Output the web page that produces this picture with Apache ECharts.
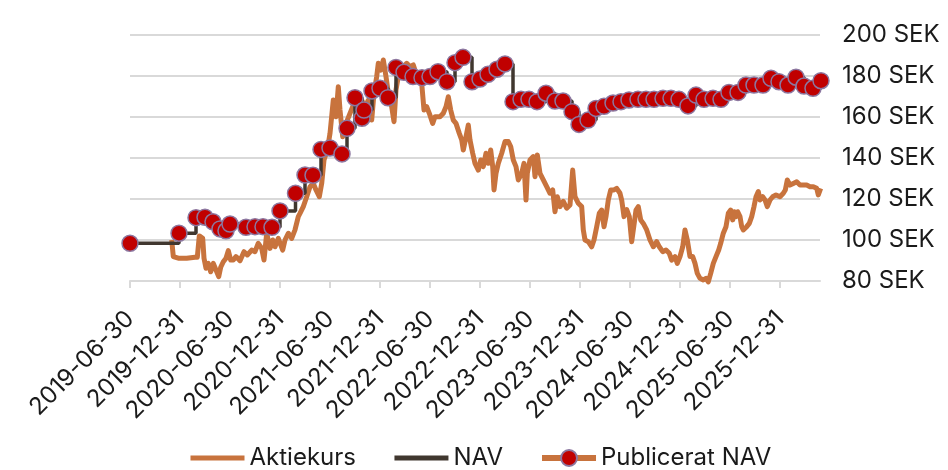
<!DOCTYPE html>
<html>
<head>
<meta charset="utf-8">
<script src="https://cdn.jsdelivr.net/npm/echarts@6/dist/echarts.min.js"></script>
<style>
html, body { margin: 0; padding: 0; background: #fff; }
#main { width: 948px; height: 470px; }
</style>
</head>
<body>
<div id="main"></div>
<script>
// x values are decimal years (2019.5 = 2019-06-30)
var xTickValues = [2019.5, 2020, 2020.5, 2021, 2021.5, 2022, 2022.5, 2023, 2023.5, 2024, 2024.5, 2025, 2025.5, 2026];
var xTickLabels = ['2019-06-30', '2019-12-31', '2020-06-30', '2020-12-31', '2021-06-30', '2021-12-31', '2022-06-30',
	'2022-12-31', '2023-06-30', '2023-12-31', '2024-06-30', '2024-12-31', '2025-06-30', '2025-12-31'];

var aktiekurs = [
	[2019.917, 100.0], [2019.933, 91.9], [2019.983, 91.1], [2020.067, 91.1], [2020.15, 91.6], [2020.173, 91.6],
	[2020.193, 102.0], [2020.227, 100.8], [2020.24, 91.1], [2020.26, 86.2], [2020.283, 88.6], [2020.307, 84.5],
	[2020.333, 88.6], [2020.36, 85.4], [2020.387, 82.1], [2020.407, 86.7], [2020.433, 89.4], [2020.46, 91.1],
	[2020.483, 94.8], [2020.507, 90.2], [2020.533, 90.2], [2020.56, 91.9], [2020.60, 89.9], [2020.64, 94.3],
	[2020.673, 92.7], [2020.717, 95.1], [2020.75, 94.3], [2020.783, 98.4], [2020.817, 95.9], [2020.84, 90.2],
	[2020.867, 103.3], [2020.90, 95.9], [2020.927, 100], [2020.95, 96.7], [2020.983, 100.8], [2021.027, 95.1],
	[2021.05, 100], [2021.083, 103.3], [2021.117, 100.8], [2021.15, 104.9], [2021.183, 111.4], [2021.20, 113],
	[2021.233, 116.3], [2021.267, 121.1], [2021.30, 126], [2021.333, 127.6], [2021.36, 124.4], [2021.393, 121.1],
	[2021.417, 127.6], [2021.44, 139], [2021.473, 143.9], [2021.50, 152], [2021.533, 168.3], [2021.56, 160.1],
	[2021.583, 174.8], [2021.60, 163.4], [2021.627, 150.4], [2021.65, 153.7], [2021.673, 158.5], [2021.70, 161.8],
	[2021.727, 165.0], [2021.76, 166.7], [2021.783, 163.4], [2021.817, 168.3], [2021.85, 165], [2021.883, 168.3],
	[2021.917, 158.5], [2021.94, 171.6], [2021.967, 179.7], [2021.983, 186.2], [2022.007, 182.9], [2022.033, 187.8],
	[2022.06, 179.7], [2022.093, 168.3], [2022.117, 165], [2022.14, 157.7], [2022.16, 173.2], [2022.183, 179.7],
	[2022.207, 182.9], [2022.233, 184.5], [2022.267, 186.2], [2022.30, 184.5], [2022.333, 185.4], [2022.36, 181.3],
	[2022.383, 178], [2022.417, 176.4], [2022.44, 163.4], [2022.467, 165], [2022.493, 161.8], [2022.527, 156.9],
	[2022.55, 160.1], [2022.60, 160.1], [2022.633, 161.8], [2022.66, 165], [2022.683, 169.9], [2022.707, 163.4],
	[2022.733, 158.5], [2022.76, 156.9], [2022.793, 152], [2022.817, 148.8], [2022.833, 143.9], [2022.86, 150.4],
	[2022.883, 156.1], [2022.90, 148.8], [2022.927, 142.3], [2022.95, 137.4], [2022.983, 134.1], [2023.007, 139],
	[2023.033, 135.8], [2023.06, 142.3], [2023.083, 137.4], [2023.107, 143.9], [2023.127, 135.8], [2023.14, 124.4],
	[2023.16, 132.5], [2023.183, 137.4], [2023.217, 142.3], [2023.25, 148], [2023.283, 148], [2023.307, 145.6],
	[2023.333, 139], [2023.36, 135.8], [2023.383, 129.3], [2023.417, 132.5], [2023.44, 137.4], [2023.46, 119.5],
	[2023.473, 132.5], [2023.50, 139], [2023.533, 140.7], [2023.55, 130.9], [2023.573, 141.5], [2023.60, 132.5],
	[2023.633, 129.3], [2023.667, 126], [2023.70, 122.8], [2023.727, 124.4], [2023.75, 113.8], [2023.773, 121.1],
	[2023.80, 116.3], [2023.833, 118.8], [2023.867, 115.5], [2023.90, 117.1], [2023.927, 134.1], [2023.95, 121.1],
	[2023.983, 117.9], [2024.017, 116.3], [2024.033, 104.9], [2024.05, 100], [2024.083, 99.2], [2024.117, 96.7],
	[2024.14, 100], [2024.167, 106.5], [2024.193, 113], [2024.217, 114.6], [2024.24, 106.5], [2024.26, 111.4],
	[2024.283, 119.5], [2024.307, 124.4], [2024.34, 124.4], [2024.367, 125.2], [2024.40, 122.8], [2024.417, 119.5],
	[2024.44, 111.4], [2024.467, 114.8], [2024.493, 111.4], [2024.517, 99.2], [2024.533, 104.9], [2024.56, 114.6],
	[2024.583, 116.3], [2024.607, 109.8], [2024.633, 108.1], [2024.667, 104.9], [2024.70, 100], [2024.733, 96.7],
	[2024.767, 99.2], [2024.793, 96.7], [2024.827, 94.3], [2024.86, 95.1], [2024.893, 93.5], [2024.917, 90.2],
	[2024.95, 91.9], [2024.973, 88.6], [2025.00, 91.9], [2025.027, 96.7], [2025.05, 104.9], [2025.073, 100],
	[2025.10, 91.9], [2025.127, 91.9], [2025.15, 88.6], [2025.173, 83.7], [2025.20, 81.3], [2025.233, 80.5],
	[2025.26, 81.3], [2025.283, 79.6], [2025.307, 83.7], [2025.333, 88.6], [2025.36, 91.9], [2025.387, 95.1],
	[2025.407, 98.4], [2025.433, 103.3], [2025.46, 106.5], [2025.483, 113], [2025.507, 114.6], [2025.527, 109.8],
	[2025.543, 113.8], [2025.56, 111.4], [2025.577, 113.8], [2025.60, 111.4], [2025.617, 106.5], [2025.633, 104.9],
	[2025.667, 106.5], [2025.693, 108.1], [2025.717, 111.4], [2025.74, 116.3], [2025.76, 121.1], [2025.783, 123.6],
	[2025.80, 119.5], [2025.827, 121.1], [2025.85, 119.5], [2025.873, 116.3], [2025.90, 119.5], [2025.927, 121.1],
	[2025.96, 122], [2026.00, 121.1], [2026.033, 122.8], [2026.053, 124.4], [2026.073, 129.3], [2026.10, 126.8],
	[2026.133, 127.6], [2026.167, 128.4], [2026.20, 126.8], [2026.233, 126.8], [2026.267, 126.8], [2026.30, 126],
	[2026.333, 126], [2026.367, 125.2], [2026.383, 122], [2026.407, 125.2]
];

var publiceratNav = [
	[2019.50, 98.4], [2019.99, 103.3], [2020.16, 110.9], [2020.25, 111.1], [2020.33, 108.9], [2020.40, 105.4],
	[2020.46, 104.5], [2020.50, 107.8], [2020.66, 106.2], [2020.75, 106.5], [2020.83, 106.5], [2020.92, 106.2],
	[2021.00, 114.2], [2021.155, 122.8], [2021.25, 131.7], [2021.33, 131.6], [2021.41, 144.2], [2021.50, 144.9],
	[2021.62, 142.0], [2021.67, 154.5], [2021.75, 169.4], [2021.82, 159.4], [2021.84, 163.4], [2021.92, 172.7],
	[2022.00, 174.0], [2022.08, 169.4], [2022.16, 184.2], [2022.24, 181.8], [2022.33, 179.7], [2022.42, 179.2],
	[2022.50, 179.7], [2022.58, 182.1], [2022.67, 177.2], [2022.75, 186.5], [2022.83, 189.1], [2022.92, 177.2],
	[2023.00, 178.5], [2023.08, 180.8], [2023.17, 183.3], [2023.25, 185.9], [2023.33, 167.5], [2023.41, 168.6],
	[2023.49, 168.6], [2023.57, 167.5], [2023.66, 171.6], [2023.75, 167.8], [2023.83, 167.8], [2023.92, 162.6],
	[2023.99, 156.4], [2024.08, 158.5], [2024.16, 164.2], [2024.24, 165.2], [2024.33, 166.8], [2024.41, 167.5],
	[2024.49, 168.3], [2024.58, 168.6], [2024.66, 168.6], [2024.74, 168.6], [2024.83, 169.1], [2024.91, 169.1],
	[2024.99, 168.6], [2025.08, 165.4], [2025.16, 170.7], [2025.24, 168.6], [2025.33, 169.1], [2025.41, 168.6],
	[2025.49, 172.0], [2025.58, 172.0], [2025.66, 175.6], [2025.74, 175.6], [2025.83, 175.6], [2025.91, 178.9],
	[2025.99, 177.2], [2026.08, 175.6], [2026.16, 179.4], [2026.24, 175.1], [2026.33, 174.0], [2026.41, 177.7]
];

// NAV hålls konstant mellan publiceringarna
var nav = publiceratNav.slice();

var fontFamily = 'Inter, "DejaVu Sans", sans-serif';
var orange = '#C8733D';
var dark = '#40372f';

var myChart = echarts.init(document.getElementById('main'));
var option = {
	backgroundColor: '#ffffff',
	animation: false,
	textStyle: { fontFamily: fontFamily },
	grid: {
		left: 130,
		right: 128,
		top: 35,
		bottom: 189,
		containLabel: false,
		outerBoundsMode: 'none'
	},
	legend: {
		left: 188,
		top: 446,
		padding: 0,
		itemWidth: 54,
		itemHeight: 20,
		itemGap: 36,
		textStyle: { fontSize: 24, color: '#1a1a1a', fontFamily: fontFamily },
		data: [
			{ name: 'Aktiekurs', itemStyle: { opacity: 0 }, lineStyle: { width: 5 } },
			{ name: 'NAV', itemStyle: { opacity: 0 }, lineStyle: { width: 5 } },
			{ name: 'Publicerat NAV', lineStyle: { color: orange, width: 6, opacity: 1 } }
		]
	},
	xAxis: {
		type: 'value',
		min: 2019.5,
		max: 2026.4,
		interval: 0.5,
		splitLine: { show: false },
		axisLine: { lineStyle: { color: '#d9d9d9', width: 2 } },
		axisTick: { show: true, length: 7, customValues: xTickValues, lineStyle: { color: '#d9d9d9', width: 2 } },
		axisLabel: {
			customValues: xTickValues,
			rotate: 45,
			margin: 34,
			fontSize: 24,
			color: '#1a1a1a',
			fontFamily: fontFamily,
			formatter: function (v) {
				var i = Math.round((v - 2019.5) * 2);
				return xTickLabels[i] || '';
			}
		}
	},
	yAxis: {
		type: 'value',
		position: 'right',
		min: 80,
		max: 200,
		interval: 20,
		axisLine: { show: false },
		axisTick: { show: false },
		splitLine: { lineStyle: { color: '#d9d9d9', width: 2 } },
		axisLabel: {
			margin: 22,
			fontSize: 24,
			color: '#1a1a1a',
			fontFamily: fontFamily,
			formatter: '{value} SEK'
		}
	},
	series: [
		{
			name: 'Aktiekurs',
			type: 'line',
			data: aktiekurs,
			symbol: 'none',
			clip: false,
			itemStyle: { color: orange },
			lineStyle: { color: orange, width: 5, join: 'round' },
			z: 2
		},
		{
			name: 'NAV',
			type: 'line',
			data: nav,
			step: 'end',
			symbol: 'none',
			itemStyle: { color: dark },
			lineStyle: { color: dark, width: 3.5 },
			z: 3
		},
		{
			name: 'Publicerat NAV',
			type: 'line',
			data: publiceratNav,
			symbol: 'circle',
			symbolSize: 16,
			showAllSymbol: true,
			clip: false,
			lineStyle: { width: 0, opacity: 0 },
			itemStyle: { color: '#C00000', borderColor: '#8C77A0', borderWidth: 1.5 },
			z: 4
		}
	]
};
myChart.setOption(option);
</script>
</body>
</html>
